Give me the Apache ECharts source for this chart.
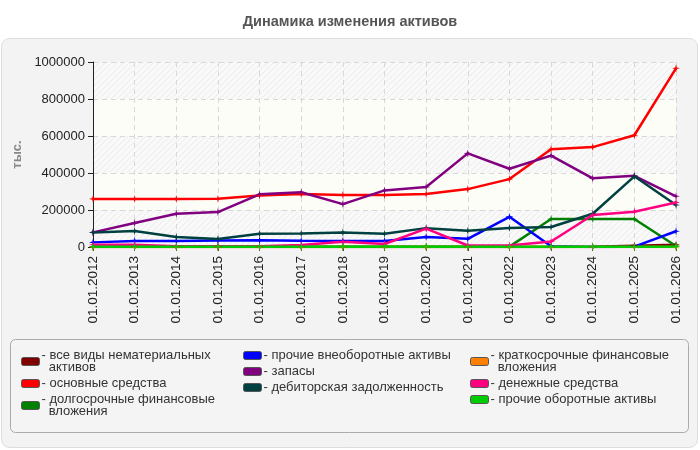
<!DOCTYPE html>
<html>
<head>
<meta charset="utf-8">
<script src="https://cdn.jsdelivr.net/npm/echarts@6/dist/echarts.min.js"></script>
<style>
  html, body { margin: 0; padding: 0; background: #fff; }
  #chart { width: 700px; height: 450px; }
</style>
</head>
<body>
<div id="chart"></div>
<script>
// даты (подписи оси X)
const dates = [
  "01.01.2012", "01.01.2013", "01.01.2014", "01.01.2015", "01.01.2016",
  "01.01.2017", "01.01.2018", "01.01.2019", "01.01.2020", "01.01.2021",
  "01.01.2022", "01.01.2023", "01.01.2024", "01.01.2025", "01.01.2026",
];

// значения, тыс.
const intangibles = [0, 0, 0, 0, 0, 0, 0, 0, 0, 0, 0, 0, 2000, 7000, 12000];
const fixedAssets = [260000, 260000, 260000, 261000, 279000, 286000, 281000, 281000, 286000, 313000, 367000, 528000, 540000, 604000, 966000];
const longInvest = [2000, 2000, 2000, 2000, 2000, 2000, 2000, 2000, 2000, 2000, 2000, 151000, 151000, 151000, 5000];
const otherNonCurrent = [25000, 33000, 33000, 35000, 36000, 34000, 33000, 33000, 54000, 44000, 163000, 4000, 0, 2000, 85000];
const inventories = [79000, 130000, 180000, 189000, 285000, 296000, 232000, 306000, 324000, 506000, 423000, 494000, 371000, 385000, 274000];
const receivables = [79000, 86000, 54000, 43000, 71000, 73000, 79000, 72000, 102000, 88000, 103000, 108000, 180000, 382000, 227000];
const shortInvest = [0, 0, 0, 0, 0, 0, 0, 0, 0, 0, 0, 0, 0, 0, 0];
const cash = [12000, 12000, 4000, 4000, 4000, 11000, 29000, 16000, 99000, 8000, 8000, 30000, 173000, 191000, 241000];
const otherCurrent = [2000, 2000, 2000, 2000, 2000, 2000, 2000, 2000, 2000, 2000, 2000, 2000, 2000, 2000, 2000];

const names = [
  "все виды нематериальных активов",
  "основные средства",
  "долгосрочные финансовые вложения",
  "прочие внеоборотные активы",
  "запасы",
  "дебиторская задолженность",
  "краткосрочные финансовые вложения",
  "денежные средства",
  "прочие оборотные активы",
];
const colors = ["#800000", "#ff0000", "#008000", "#0000ff", "#800080", "#004040", "#ff8000", "#ff0080", "#00cc00"];
const values = [intangibles, fixedAssets, longInvest, otherNonCurrent, inventories, receivables, shortInvest, cash, otherCurrent];

// подписи легенды с переносом
const legendText = {
  "все виды нематериальных активов": "- все виды нематериальных\n  активов",
  "долгосрочные финансовые вложения": "- долгосрочные финансовые\n  вложения",
  "краткосрочные финансовые вложения": "- краткосрочные финансовые\n  вложения",
};

// штриховка для полос
function hatch() {
  const c = document.createElement("canvas");
  c.width = 6;
  c.height = 6;
  const ctx = c.getContext("2d");
  ctx.fillStyle = "#f9f9f9";
  ctx.fillRect(0, 0, 6, 6);
  ctx.strokeStyle = "#ebebeb";
  ctx.lineWidth = 1;
  ctx.beginPath();
  ctx.moveTo(0, 6);
  ctx.lineTo(6, 0);
  ctx.moveTo(-1, 1);
  ctx.lineTo(1, -1);
  ctx.moveTo(5, 7);
  ctx.lineTo(7, 5);
  ctx.stroke();
  return { image: c, repeat: "repeat" };
}

const chart = echarts.init(document.getElementById("chart"));
const font = "'Liberation Sans', Arial, sans-serif";
const star = "path://M0,-5 L1,-1 L5,0 L1,1 L0,5 L-1,1 L-5,0 L-1,-1 Z";

function legendCol(left, items) {
  return {
    orient: "vertical",
    left: left,
    top: 349,
    padding: 0,
    itemWidth: 18,
    itemHeight: 8,
    itemGap: 3,
    icon: "roundRect",
    data: items,
    itemStyle: { borderColor: "#555", borderWidth: 1 },
    textStyle: { fontFamily: font, fontSize: 13, color: "#333", lineHeight: 12, padding: [0, 0, 0, -3] },
    formatter: (n) => legendText[n] || "- " + n,
  };
}

chart.setOption({
  animation: false,
  textStyle: { fontFamily: font },
  title: {
    text: "Динамика изменения активов",
    left: "center",
    top: 9,
    textStyle: { fontFamily: font, fontSize: 14.5, fontWeight: "bold", color: "#555" },
  },
  graphic: {
    z: -1,
    elements: [
      {
        type: "rect",
        shape: { x: 1.5, y: 38.5, width: 696, height: 409, r: 8 },
        style: { fill: "#f3f3f3", stroke: "#dddddd", lineWidth: 1 },
      },
      {
        type: "rect",
        shape: { x: 10.5, y: 339.5, width: 678, height: 93, r: 5 },
        style: { fill: "#f4f4f4", stroke: "#aaaaaa", lineWidth: 1 },
      },
    ],
  },
  legend: [
    legendCol(21, names.slice(0, 3)),
    legendCol(243, names.slice(3, 6)),
    legendCol(470, names.slice(6, 9)),
  ],
  grid: {
    left: 93,
    right: 24,
    top: 62,
    bottom: 203,
    show: true,
    backgroundColor: "#fdfdf7",
    borderColor: "#dddddd",
    borderWidth: 1,
  },
  xAxis: {
    type: "category",
    boundaryGap: false,
    data: dates,
    axisLine: { lineStyle: { color: "#444", width: 1 } },
    axisTick: { show: true, length: 4, lineStyle: { color: "#444" } },
    axisLabel: { rotate: 90, fontSize: 13.5, color: "#222", margin: 9 },
    splitLine: { show: true, lineStyle: { color: "#d8d8d8", type: [5, 4] } },
  },
  yAxis: {
    type: "value",
    min: 0,
    max: 1000000,
    interval: 200000,
    name: "тыс.",
    nameLocation: "middle",
    nameGap: 68,
    nameTextStyle: { fontSize: 13, fontWeight: "bold", color: "#888" },
    axisLine: { show: true, lineStyle: { color: "#222", width: 1 } },
    axisTick: { show: true, length: 5, lineStyle: { color: "#222" } },
    axisLabel: { fontSize: 13, color: "#222", margin: 8, formatter: (v) => String(v) },
    splitLine: { show: true, lineStyle: { color: "#d8d8d8", type: [5, 4] } },
    splitArea: { show: true, areaStyle: { color: [hatch(), "#fdfdf7"] } },
  },
  series: names.map((n, i) => ({
    name: n,
    type: "line",
    data: values[i],
    color: colors[i],
    symbol: star,
    symbolSize: 8,
    lineStyle: { width: 2.5, color: colors[i] },
    itemStyle: { color: colors[i] },
  })),
});
</script>
</body>
</html>
